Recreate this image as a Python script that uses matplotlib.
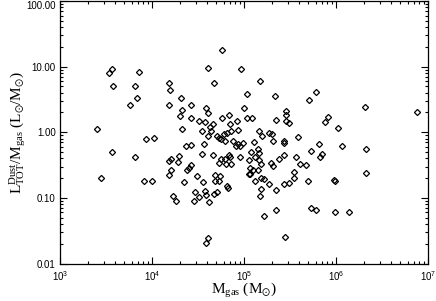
import numpy as np
import matplotlib
matplotlib.use("Agg")
import matplotlib.pyplot as plt
from matplotlib.ticker import FixedLocator, LogLocator, NullFormatter

plt.rcParams['mathtext.fontset'] = 'custom'
plt.rcParams['mathtext.rm'] = 'Liberation Serif'
plt.rcParams['mathtext.it'] = 'Liberation Serif:italic'
plt.rcParams['mathtext.sf'] = 'Liberation Sans'
plt.rcParams['mathtext.fallback'] = 'stix'

# log10 of gas mass (Msun) and log10 of L_TOT^Dust / M_gas (Lsun/Msun)
log_mgas = [
    3.56, 3.53, 3.86, 3.58, 3.82, 3.84, 3.76, 3.40, 3.94, 4.02, 3.57, 3.82, 3.45, 3.91, 4.00,
    4.76, 4.61, 4.97, 4.67, 4.19, 4.20, 5.03, 4.31, 4.19, 4.42, 4.59, 4.33, 4.61, 5.00, 4.30,
    4.84, 4.76, 4.42, 5.03, 4.51, 4.58, 4.66, 4.92, 4.85, 4.63, 4.33, 4.54, 4.64, 4.86, 4.94,
    4.78, 4.61, 4.71, 4.82, 4.73, 4.75, 4.79, 4.88, 4.93, 4.91, 4.96, 4.57, 4.37, 4.42,
    4.54, 4.66, 4.29, 4.21, 4.18, 4.28, 4.75, 4.79, 4.84, 4.85, 4.96, 5.05, 4.73, 4.80, 4.86,
    4.42, 4.40, 4.38, 4.21, 4.18, 4.49, 4.68, 4.74, 5.06, 4.35, 4.55, 4.68, 4.73, 4.81, 4.83,
    4.47, 4.58, 4.71, 4.67, 4.23, 4.51, 4.59, 4.26, 4.46, 4.62, 4.61, 4.59,
    5.17, 5.34, 5.78, 5.71, 5.46, 5.46, 5.09, 5.35, 5.46, 5.49, 5.91, 5.88, 6.02, 5.16, 5.20,
    5.27, 5.30, 5.59, 5.11, 5.32, 5.43, 5.44, 5.82, 4.99, 5.15, 5.08, 5.73, 5.43, 5.85,
    5.16, 5.12, 5.16, 5.38, 5.57, 5.83, 5.29, 5.31, 5.19, 5.07, 5.10, 5.15, 5.61, 5.67, 5.05,
    5.54, 5.54, 5.18, 5.22, 5.12, 5.27, 5.43, 5.49, 5.70, 5.98, 5.99, 5.19, 5.35, 5.17, 5.35,
    5.73, 5.78, 5.99, 5.22, 5.45,
    6.32, 6.88, 6.07, 6.33, 6.33, 6.14,
]
log_ratio = [
    0.96, 0.90, 0.92, 0.70, 0.71, 0.52, 0.41, 0.05, -0.10, -0.09, -0.30, -0.38, -0.69, -0.74, -0.74,
    1.26, 0.98, 0.97, 0.75, 0.75, 0.65, 0.59, 0.52, 0.41, 0.41, 0.37, 0.34, 0.30, 0.37, 0.25,
    0.26, 0.22, 0.21, 0.21, 0.17, 0.16, 0.13, 0.17, 0.12, 0.08, 0.05, 0.02, 0.02, 0.02, 0.03,
    -0.02, -0.05, -0.05, -0.01, -0.08, -0.11, -0.13, -0.13, -0.18, -0.21, -0.21, -0.18, -0.21, -0.19,
    -0.33, -0.35, -0.36, -0.41, -0.44, -0.46, -0.41, -0.40, -0.35, -0.37, -0.38, -0.42, -0.47, -0.48, -0.48,
    -0.50, -0.54, -0.57, -0.57, -0.65, -0.66, -0.65, -0.67, -0.63, -0.76, -0.76, -0.75, -0.74, -0.82, -0.85,
    -0.91, -0.89, -0.91, -0.94, -0.97, -0.98, -0.95, -1.04, -1.05, -1.06, -1.61, -1.68,
    0.78, 0.55, 0.61, 0.49, 0.33, 0.27, 0.21, 0.18, 0.17, 0.14, 0.23, 0.16, 0.06, 0.02, -0.06,
    -0.01, -0.02, -0.07, -0.15, -0.13, -0.14, -0.16, -0.18, -0.17, -0.25, -0.30, -0.29, -0.34, -0.33,
    -0.32, -0.37, -0.42, -0.41, -0.38, -0.38, -0.47, -0.52, -0.49, -0.54, -0.57, -0.57, -0.49, -0.50, -0.64,
    -0.60, -0.69, -0.70, -0.71, -0.75, -0.79, -0.79, -0.77, -0.74, -0.73, -0.74, -0.87, -0.88, -0.97, -1.18,
    -1.15, -1.19, -1.22, -1.28, -1.60,
    0.38, 0.31, -0.21, -0.25, -0.62, -1.21,
]

x_ticks = [1e3, 1e4, 1e5, 1e6, 1e7]
x_ticklabels = [r'$\mathsf{10^{3}}$', r'$\mathsf{10^{4}}$', r'$\mathsf{10^{5}}$',
                r'$\mathsf{10^{6}}$', r'$\mathsf{10^{7}}$']
y_ticks = [0.01, 0.1, 1.0, 10.0, 100.0]
y_ticklabels = ['0.01', '0.10', '1.00', '10.00', '100.00']

mgas = 10 ** np.array(log_mgas)
ratio = 10 ** np.array(log_ratio)

fig = plt.figure(figsize=(4.36, 3.01), dpi=100)
ax = fig.add_axes([60 / 436, 1 - 263.5 / 301, 368 / 436, 262.5 / 301])

ax.plot(mgas, ratio, linestyle='none', marker='D', markersize=3.1,
        markerfacecolor='none', markeredgecolor='black', markeredgewidth=0.9)

ax.set_xscale('log')
ax.set_yscale('log')
ax.set_xlim(1e3, 1e7)
ax.set_ylim(0.01, 100)

ax.xaxis.set_major_locator(FixedLocator(x_ticks))
ax.set_xticklabels(x_ticklabels)
ax.yaxis.set_major_locator(FixedLocator(y_ticks))
ylabels = ax.set_yticklabels(y_ticklabels, family='Liberation Sans')
ylabels[-1].set_verticalalignment('top')
ax.xaxis.set_minor_locator(LogLocator(base=10, subs=np.arange(2, 10)))
ax.yaxis.set_minor_locator(LogLocator(base=10, subs=np.arange(2, 10)))
ax.xaxis.set_minor_formatter(NullFormatter())
ax.yaxis.set_minor_formatter(NullFormatter())

ax.tick_params(which='both', direction='in', top=True, right=True, width=0.8,
               labelsize=7, colors='black')
ax.tick_params(which='major', length=5)
ax.tick_params(which='minor', length=2.5)
ax.tick_params(axis='x', pad=4)
ax.tick_params(axis='y', pad=3)
for s in ax.spines.values():
    s.set_linewidth(0.9)

ax.set_xlabel(r'$\mathrm{M_{gas}\ (M_{\odot})}$', fontsize=11, labelpad=-1)
ax.set_ylabel(r'$\mathrm{L^{Dust}_{TOT}/M_{gas}\ (L_{\odot}/M_{\odot})}$', fontsize=11, labelpad=-1)

fig.savefig('out.png', dpi=100)
